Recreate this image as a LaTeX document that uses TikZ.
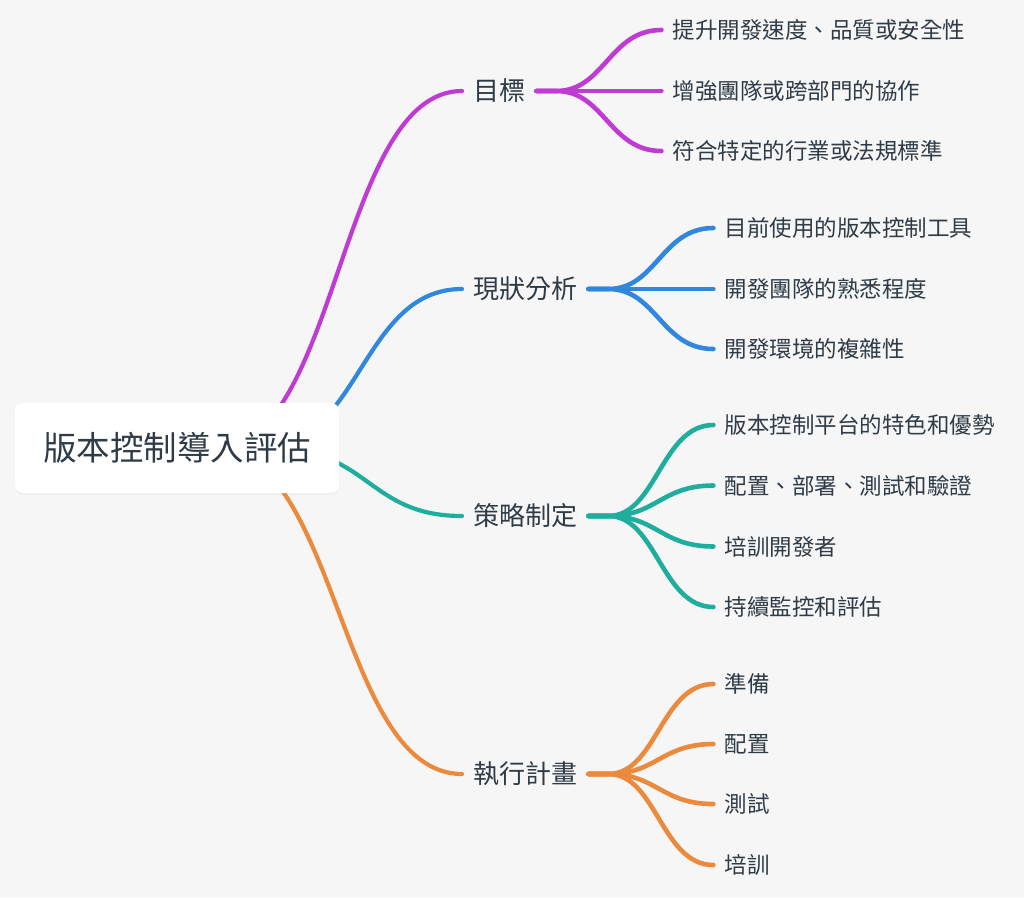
\documentclass[tikz,border=0pt]{standalone}
\usepackage{fontspec}
\newfontfamily\cjk{Noto Sans CJK TC}
\usetikzlibrary{calc,positioning,shadows}
\definecolor{paper}{HTML}{F6F6F6}
\definecolor{inkdark}{HTML}{2F3B47}
\definecolor{goalpurple}{HTML}{C03AD4}
\definecolor{statblue}{HTML}{2F88DD}
\definecolor{planteal}{HTML}{1FAE9E}
\definecolor{runorange}{HTML}{EB8A3C}
\pgfdeclarelayer{paperlayer}
\pgfdeclarelayer{links}
\pgfsetlayers{paperlayer,links,main}
\tikzset{
  rootbox/.style={fill=white, rounded corners=8pt, minimum width=324pt,
    minimum height=90pt, inner sep=0pt, font=\cjk\fontsize{33.5}{40}\selectfont,
    text=inkdark, drop shadow={shadow xshift=0pt, shadow yshift=-2pt, opacity=0.05}},
  topic/.style={anchor=west, inner xsep=11pt, inner ysep=4pt,
    font=\cjk\fontsize{26}{31}\selectfont, text=inkdark},
  leaf/.style={anchor=west, inner xsep=11pt, inner ysep=3pt,
    font=\cjk\fontsize{22.5}{27}\selectfont, text=inkdark},
  branch/.style={line width=4.2pt, line cap=round},
  twig/.style={line width=4.6pt, line cap=round},
}
\begin{document}
\begin{tikzpicture}[x=1pt,y=-1pt]
  \begin{pgfonlayer}{paperlayer}
    \fill[paper] (0,0) rectangle (1024,897);
  \end{pgfonlayer}
  \useasboundingbox (0,0) rectangle (1024,897);

  % root and the four topics
  \node[rootbox] (root) at (177,448) {版本控制導入評估};
  \node[topic] (goal) at (462,91) {目標};
  \node[topic] (status) at (462,289) {現狀分析};
  \node[topic] (strategy) at (462,516) {策略制定};
  \node[topic] (execution) at (462,774) {執行計畫};

  % main branches, starting inside the root box
  \begin{pgfonlayer}{links}
    \foreach \topic/\off/\h/\col in {goal/38/123.5/goalpurple, status/82/101.5/statblue,
        strategy/98/93.5/planteal, execution/38/123.5/runorange} {
      \coordinate (root-\topic) at ($(root.center)+(\off,1)$);
      \draw[branch, \col] (root-\topic) .. controls +(\h,0) and +(-\h,0) .. (\topic.west);
    }
  \end{pgfonlayer}

  % leaves of each topic
  \foreach \i/\dy/\txt in {1/61/提升開發速度、品質或安全性, 2/0/增強團隊或跨部門的協作,
      3/-60/符合特定的行業或法規標準} {
    \node[leaf, right=125pt of goal.east, yshift=\dy pt] (goal-\i) {\txt};
    \draw[twig, goalpurple] (goal.east) -- ++(20,0) .. controls +(48,0) and +(-52,0) .. (goal-\i.west);
  }
  \foreach \i/\dy/\txt in {1/61/目前使用的版本控制工具, 2/0/開發團隊的熟悉程度,
      3/-60/開發環境的複雜性} {
    \node[leaf, right=125pt of status.east, yshift=\dy pt] (status-\i) {\txt};
    \draw[twig, statblue] (status.east) -- ++(20,0) .. controls +(48,0) and +(-52,0) .. (status-\i.west);
  }
  \foreach \i/\dy/\txt in {1/91/版本控制平台的特色和優勢, 2/30.5/配置、部署、測試和驗證,
      3/-30.5/培訓開發者, 4/-91/持續監控和評估} {
    \node[leaf, right=125pt of strategy.east, yshift=\dy pt] (strategy-\i) {\txt};
    \draw[twig, planteal] (strategy.east) -- ++(20,0) .. controls +(48,0) and +(-52,0) .. (strategy-\i.west);
  }
  \foreach \i/\dy/\txt in {1/90/準備, 2/30/配置, 3/-30/測試, 4/-91/培訓} {
    \node[leaf, right=125pt of execution.east, yshift=\dy pt] (execution-\i) {\txt};
    \draw[twig, runorange] (execution.east) -- ++(20,0) .. controls +(48,0) and +(-52,0) .. (execution-\i.west);
  }
\end{tikzpicture}
\end{document}
